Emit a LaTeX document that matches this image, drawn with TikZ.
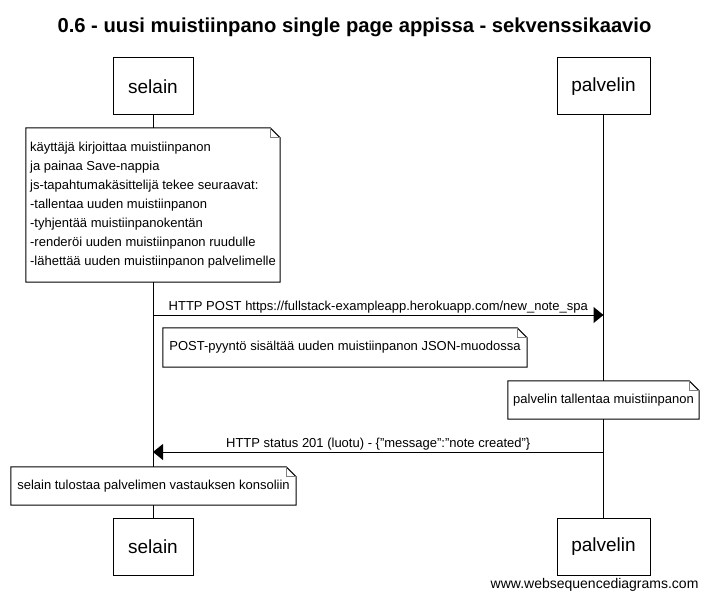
\documentclass[tikz,border=0pt]{standalone}
\usepackage{fontspec}
\setmainfont{Liberation Sans}
\usepackage{tikz}
\usetikzlibrary{arrows.meta}

\tikzset{
  actor/.style={draw, line width=1pt, minimum height=57pt, inner sep=0pt, font=\fontsize{19}{22}\selectfont},
  memo/.style={fill=white, inner sep=0pt, align=left, font=\fontsize{13}{19}\selectfont},
  msg/.style={line width=1pt, -{Triangle[length=10pt,width=16pt]}},
  msglabel/.style={midway, above, inner sep=1.5pt, font=\fontsize{13}{15}\selectfont},
}

\begin{document}
\begin{tikzpicture}[x=1pt, y=-1pt]
	\useasboundingbox (0,0) rectangle (709,599);
	\node[anchor=base, font=\bfseries\fontsize{20.2}{24}\selectfont] (title) at (354.5,33) {0.6 - uusi muistiinpano single page appissa - sekvenssikaavio};
	% osapuolet
	\node[actor, minimum width=80pt] (selain) at (153,86.5) {selain};
	\node[actor, minimum width=93pt] (palvelin) at (603.5,86.5) {palvelin};
	\node[actor, minimum width=80pt] (selainb) at (153,546.5) {selain};
	\node[actor, minimum width=93pt] (palvelinb) at (603.5,546.5) {palvelin};
	\draw[line width=1pt] (selain.south) -- (selainb.north);
	\draw[line width=1pt] (palvelin.south) -- (palvelinb.north);
	% muistiinpanot
	\node[memo, minimum width=254pt, minimum height=154pt] (note1) at (153,205) {k\"aytt\"aj\"a kirjoittaa muistiinpanon\\ja painaa Save-nappia\\js-tapahtumak\"asittelij\"a tekee seuraavat:\\-tallentaa uuden muistiinpanon\\-tyhjent\"a\"a muistiinpanokent\"an\\-render\"oi uuden muistiinpanon ruudulle\\-l\"ahett\"a\"a uuden muistiinpanon palvelimelle};
	\node[memo, minimum width=364pt, minimum height=39pt] (note2) at (345,347.5) {POST-pyynt\"o sis\"alt\"a\"a uuden muistiinpanon JSON-muodossa};
	\node[memo, minimum width=191pt, minimum height=38pt] (note3) at (603.5,400) {palvelin tallentaa muistiinpanon};
	\node[memo, minimum width=285pt, minimum height=38pt] (note4) at (153.5,486) {selain tulostaa palvelimen vastauksen konsoliin};
	\foreach \n in {note1,note2,note3,note4}{
		\draw[line width=1pt] (\n.south west) -- (\n.north west) -- ([xshift=-10pt]\n.north east) -- ([yshift=-10pt]\n.north east) -- (\n.south east) -- cycle;
		\draw[gray, line width=1pt] ([xshift=-10pt]\n.north east) |- ([yshift=-10pt]\n.north east);
	}
	% viestit
	\draw[msg] (selain |- 0,315) -- node[msglabel] {HTTP POST https://fullstack-exampleapp.herokuapp.com/new\_note\_spa} (palvelin |- 0,315);
	\draw[msg] (palvelin |- 0,452) -- node[msglabel] {HTTP status 201 (luotu) - \{\symbol{34}message\symbol{34}:\symbol{34}note created\symbol{34}\}} (selain |- 0,452);
	\node[anchor=base east, font=\fontsize{14}{16}\selectfont] (site) at (702,588) {www.websequencediagrams.com};
\end{tikzpicture}
\end{document}
